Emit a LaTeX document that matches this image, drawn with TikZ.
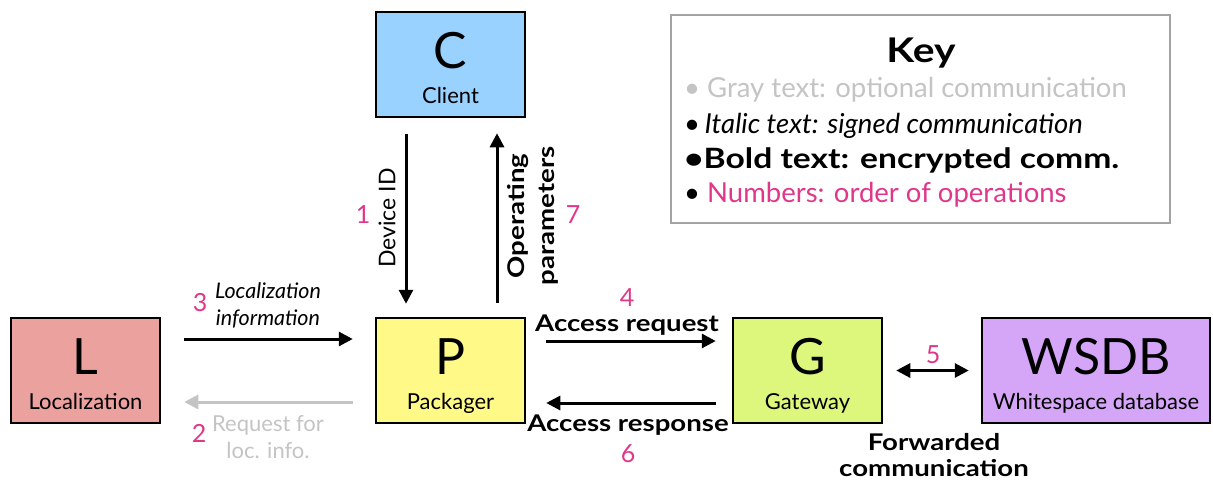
\documentclass[tikz,border=0pt]{standalone}
\usepackage{fontspec}
\setmainfont{Lato}[BoldFeatures={FakeStretch=1.2}]
\usetikzlibrary{positioning, arrows.meta}

\definecolor{clientfill}{HTML}{99D1FF}
\definecolor{locfill}{HTML}{EBA29F}
\definecolor{packfill}{HTML}{FFFA88}
\definecolor{gwfill}{HTML}{DCF77C}
\definecolor{dbfill}{HTML}{D5A6F7}
\definecolor{opnum}{HTML}{E0378A}
\definecolor{optgray}{HTML}{C4C4C4}
\definecolor{keyframe}{HTML}{A3A3A3}

\begin{document}
\begin{tikzpicture}[
      x=1pt, y=-1pt,
      box/.style={rectangle, draw, line width=2.5pt, minimum width=149pt, minimum height=105pt},
      letter/.style={font=\fontsize{50}{50}\selectfont, text height=36pt, text depth=0pt, inner sep=0pt},
      boxname/.style={font=\fontsize{22}{24}\selectfont, text height=16pt, text depth=0pt, inner sep=0pt},
      arrow/.style={-{Triangle[length=14pt, width=14pt]}, line width=3pt},
      dblarrow/.style={{Triangle[length=14pt, width=14pt]}-{Triangle[length=14pt, width=14pt]}, line width=3pt},
      num/.style={text=opnum, font=\fontsize{25}{25}\selectfont, inner sep=0pt},
      boldlbl/.style={font=\bfseries\fontsize{23}{26}\selectfont, align=center, inner sep=0pt},
      itallbl/.style={font=\itshape\fontsize{21.5}{27}\selectfont, align=center, inner sep=0pt},
      graylbl/.style={text=optgray, font=\fontsize{22}{27}\selectfont, align=center, inner sep=0pt},
      keyline/.style={anchor=base west, font=\fontsize{27.5}{30}\selectfont, inner sep=0pt}
    ]
    \useasboundingbox (0,0) rectangle (1213,485);

    % boxes
    \node[box, fill=clientfill] (client) at (450.5,64.5) {};
    \node[box, fill=locfill] (loc) at (85.5,370.5) {};
    \node[box, fill=packfill] (pack) at (450.5,370.5) {};
    \node[box, fill=gwfill] (gw) at (807.5,370.5) {};
    \node[box, fill=dbfill, minimum width=228pt] (db) at (1096,370.5) {};

    \node[letter] (clientletter) at ([yshift=14pt]client.center) {C};
    \node[boxname] (clientname) at ([yshift=-31pt]client.center) {Client};
    \node[letter] (locletter) at ([yshift=14pt]loc.center) {L};
    \node[boxname] (locname) at ([yshift=-31pt]loc.center) {Localization};
    \node[letter] (packletter) at ([yshift=14pt]pack.center) {P};
    \node[boxname] (packname) at ([yshift=-31pt]pack.center) {Packager};
    \node[letter] (gwletter) at ([yshift=14pt]gw.center) {G};
    \node[boxname] (gwname) at ([yshift=-31pt]gw.center) {Gateway};
    \node[letter] (dbletter) at ([yshift=14pt]db.center) {WSDB};
    \node[boxname] (dbname) at ([yshift=-31pt]db.center) {Whitespace database};

    % connectors
    \draw[arrow, shorten <=16pt, shorten >=13pt] ([xshift=-44.5pt]client.south) -- ([xshift=-44.5pt]pack.north);
    \draw[arrow, shorten <=14pt, shorten >=15pt] ([xshift=46.5pt]pack.north) -- ([xshift=46.5pt]client.south);
    \draw[arrow, shorten <=23pt, shorten >=22pt] ([yshift=31.5pt]loc.east) -- ([yshift=31.5pt]pack.west);
    \draw[arrow, optgray, shorten <=22pt, shorten >=23pt] ([yshift=-31.5pt]pack.west) -- ([yshift=-31.5pt]loc.east);
    \draw[arrow, shorten <=20pt, shorten >=16pt] ([yshift=29.5pt]pack.east) -- ([yshift=29.5pt]gw.west);
    \draw[arrow, shorten <=16pt, shorten >=20pt] ([yshift=-32.5pt]gw.west) -- ([yshift=-32.5pt]pack.east);
    \draw[dblarrow, shorten <=13pt, shorten >=12pt] (gw.east) -- (db.west);

    % labels
    \node[itallbl] (locinfo) at (268,305) {Localization\\information};
    \node[num] (n3) at (200,303) {3};
    \node[graylbl] (locreq) at (268,437) {Request for\\loc. info.};
    \node[num] (n2) at (199,433) {2};
    \node[font=\fontsize{23}{24}\selectfont, rotate=90, inner sep=0pt] (devid) at (387,218) {Device ID};
    \node[num] (n1) at (363,215) {1};
    \node[boldlbl, font=\bfseries\fontsize{23}{30}\selectfont, rotate=90] (opparams) at (533,216) {Operating\\parameters};
    \node[num] (n7) at (573,215) {7};
    \node[boldlbl] (accreq) at (627,325) {Access request};
    \node[num] (n4) at (627,298) {4};
    \node[boldlbl] (accresp) at (628,425) {Access response};
    \node[num] (n6) at (628,454) {6};
    \node[num] (n5) at (933,355) {5};
    \node[boldlbl] (fwd) at (934,455) {Forwarded\\communication};

    % key
    \node[rectangle, draw=keyframe, line width=1.5pt, fill=white, minimum width=499pt, minimum height=208pt] (key) at (920.5,119) {};
    \node[font=\bfseries\fontsize{34}{34}\selectfont, anchor=base, inner sep=0pt] (keytitle) at (921,62) {Key};
    \node[keyline, text=optgray] (keygray) at (684,97) {• Gray text: optional communication};
    \node[keyline] (keyital) at (684,133) {•\,\itshape Italic text: signed communication};
    \node[keyline, font=\bfseries\fontsize{28}{30}\selectfont] (keybold) at (684,168) {•Bold text: encrypted comm.};
    \node[keyline] (keynum) at (684,202) {• \textcolor{opnum}{Numbers: order of operations}};
  \end{tikzpicture}
\end{document}
